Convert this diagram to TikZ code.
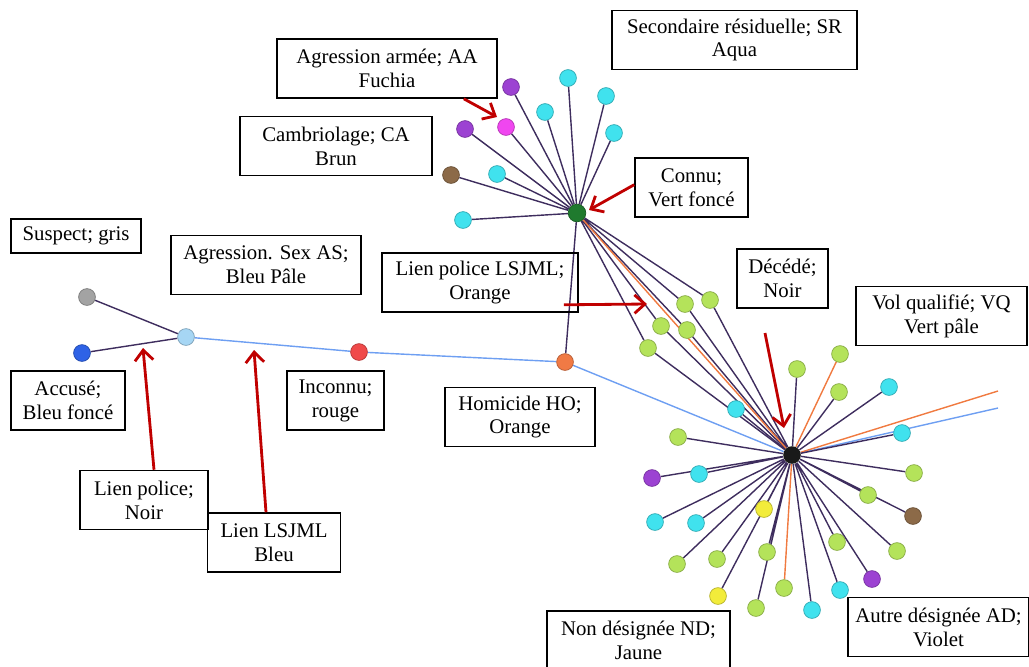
\documentclass[tikz,border=0pt]{standalone}
\usepackage{fontspec}
\setmainfont{Liberation Serif}
\usepackage{xcolor}
\usepackage{tikz}
\usetikzlibrary{arrows.meta,positioning,backgrounds}
\definecolor{aquanode}{HTML}{40E2EE}
\definecolor{palegreen}{HTML}{B4E35A}
\definecolor{violetnode}{HTML}{9C42D2}
\definecolor{fuchsianode}{HTML}{F046F0}
\definecolor{brunnode}{HTML}{8C6A48}
\definecolor{grisnode}{HTML}{A3A3A3}
\definecolor{bleufonce}{HTML}{2E62E6}
\definecolor{bleupale}{HTML}{A6D6F4}
\definecolor{rougenode}{HTML}{F04A4A}
\definecolor{orangenode}{HTML}{F07A45}
\definecolor{vertfonce}{HTML}{1F7A2E}
\definecolor{jaunenode}{HTML}{F2EC3A}
\definecolor{lienpolice}{HTML}{3E2D5E}
\definecolor{lienbleu}{HTML}{6E9FF2}
\definecolor{lienorange}{HTML}{F07A40}
\definecolor{arrowred}{HTML}{C00000}
\tikzset{
  vertex/.style={circle, fill=#1, draw=#1!75!black, line width=0.5pt, minimum size=4.2mm, inner sep=0pt},
  legend/.style={draw=black, line width=1.1pt, align=center, font=\fontsize{14.8}{17}\selectfont, inner sep=2pt, minimum height=1.475cm},
  polline/.style={draw=lienpolice, line width=1pt},
  bleuline/.style={draw=lienbleu, line width=1pt},
  orline/.style={draw=lienorange, line width=1pt},
  pointer/.style={-{Straight Barb[length=2.6mm,width=4.6mm]}, draw=arrowred, line width=2pt}
}

\begin{document}
\begin{tikzpicture}[x=0.025cm, y=-0.025cm]
  \useasboundingbox (0,0) rectangle (1029,666);

  % legend boxes
  \node[legend, minimum width=5.5cm] (aa) at (387,68.5) {Agression armée; AA\\Fuchia};
  \node[legend, minimum width=4.8cm] (ca) at (336,146) {Cambriolage; CA\\Brun};
  \node[legend, minimum width=3.25cm, minimum height=0.85cm] (suspect) at (76,236) {Suspect; gris};
  \node[legend, minimum width=4.75cm] (as) at (266,265) {Agression. Sex AS;\\Bleu Pâle};
  \node[legend, minimum width=4.9cm] (lsjmlpol) at (480,282.5) {Lien police LSJML;\\Orange};
  \node[legend, minimum width=6.125cm] (sr) at (734.5,40) {Secondaire résiduelle; SR\\Aqua};
  \node[legend, minimum width=2.825cm] (connu) at (691.5,187.5) {Connu;\\Vert foncé};
  \node[legend, minimum width=2.275cm] (decede) at (782.5,278.5) {Décédé;\\Noir};
  \node[legend, minimum width=4.275cm] (vq) at (941.5,316) {Vol qualifié; VQ\\Vert pâle};
  \node[legend, minimum width=2.85cm] (accuse) at (68,400.5) {Accusé;\\Bleu foncé};
  \node[legend, minimum width=2.425cm] (inconnu) at (335.5,400.5) {Inconnu;\\rouge};
  \node[legend, minimum width=3.75cm] (homicide) at (520,417) {Homicide HO;\\Orange};
  \node[legend, minimum width=3.2cm] (lienpol) at (144,500) {Lien police;\\Noir};
  \node[legend, minimum width=3.325cm] (lienlsjml) at (274,542.5) {Lien LSJML\\Bleu};
  \node[legend, minimum width=4.575cm] (nd) at (638.5,640.5) {Non désignée ND;\\Jaune};
  \node[legend, minimum width=4.525cm] (ad) at (938.5,627) {Autre désignée AD;\\Violet};

  % left chain
  \node[vertex=grisnode] (sg) at (87,297) {};
  \node[vertex=bleufonce] (ab) at (82,353) {};
  \node[vertex=bleupale] (bp) at (186,337) {};
  \node[vertex=rougenode] (ri) at (359,352) {};
  \node[vertex=orangenode] (ho) at (565,362) {};

  % upper cluster
  \node[vertex=vertfonce, minimum size=4.4mm] (cf) at (577,213) {};
  \node[vertex=violetnode] (u1) at (511,87) {};
  \node[vertex=aquanode] (u2) at (568,78) {};
  \node[vertex=aquanode] (u3) at (606,96) {};
  \node[vertex=aquanode] (u4) at (545,112) {};
  \node[vertex=violetnode] (u5) at (465,129) {};
  \node[vertex=fuchsianode] (u6) at (506,127) {};
  \node[vertex=aquanode] (u7) at (614,133) {};
  \node[vertex=brunnode] (u8) at (451,175) {};
  \node[vertex=aquanode] (u9) at (497,174) {};
  \node[vertex=aquanode] (u10) at (463,220) {};

  % between the hubs
  \node[vertex=palegreen] (m1) at (710,300) {};
  \node[vertex=palegreen] (m2) at (685,304) {};
  \node[vertex=palegreen] (m3) at (661,326) {};
  \node[vertex=palegreen] (m4) at (687,330) {};
  \node[vertex=palegreen] (m5) at (648,348) {};

  % lower cluster
  \node[circle, fill=black!90, minimum size=4.4mm, inner sep=0pt] (dc) at (792,455) {};
  \node[vertex=palegreen] (l1) at (840,354) {};
  \node[vertex=palegreen] (l2) at (797,369) {};
  \node[vertex=palegreen] (l3) at (839,392) {};
  \node[vertex=aquanode] (l4) at (889,387) {};
  \node[vertex=aquanode] (l5) at (736,409) {};
  \node[vertex=palegreen] (l6) at (678,437) {};
  \node[vertex=aquanode] (l7) at (902,433) {};
  \node[vertex=aquanode] (l8) at (699,474) {};
  \node[vertex=violetnode] (l9) at (652,478) {};
  \node[vertex=palegreen] (l10) at (914,473) {};
  \node[vertex=palegreen] (l11) at (868,495) {};
  \node[vertex=brunnode] (l12) at (913,516) {};
  \node[vertex=aquanode] (l13) at (655,522) {};
  \node[vertex=aquanode] (l14) at (696,523) {};
  \node[vertex=jaunenode] (l15) at (764,509) {};
  \node[vertex=palegreen] (l16) at (837,542) {};
  \node[vertex=palegreen] (l17) at (897,551) {};
  \node[vertex=palegreen] (l18) at (677,564) {};
  \node[vertex=palegreen] (l19) at (717,559) {};
  \node[vertex=palegreen] (l20) at (767,552) {};
  \node[vertex=violetnode] (l21) at (872,579) {};
  \node[vertex=jaunenode] (l22) at (718,596) {};
  \node[vertex=palegreen] (l23) at (784,588) {};
  \node[vertex=aquanode] (l24) at (840,590) {};
  \node[vertex=palegreen] (l25) at (756,608) {};
  \node[vertex=aquanode] (l26) at (812,610) {};
  \coordinate (eor) at (998,391);
  \coordinate (ebl) at (998,408);

  % links
  \begin{scope}[on background layer]
    \draw[polline] (sg) -- (bp) (ab) -- (bp) (ho) -- (cf);
    \draw[bleuline] (bp) -- (ri) -- (ho) -- (dc) -- (ebl);
    \draw[polline] (cf) -- (u1) (cf) -- (u2) (cf) -- (u3) (cf) -- (u4) (cf) -- (u5)
      (cf) -- (u6) (cf) -- (u7) (cf) -- (u8) (cf) -- (u9) (cf) -- (u10);
    \draw[polline] (cf) -- (m1) -- (dc) (cf) -- (m2) -- (dc) (cf) -- (m3) -- (dc)
      (cf) -- (m4) -- (dc) (cf) -- (m5) -- (dc);
    \draw[orline] (cf) -- (dc) -- (eor) (dc) -- (l1) (dc) -- (l23);
    \draw[polline] (dc) -- (l2) (dc) -- (l3) (dc) -- (l4) (dc) -- (l5) (dc) -- (l6)
      (dc) -- (l7) (dc) -- (l8) (dc) -- (l9) (dc) -- (l10) (dc) -- (l11) (dc) -- (l12)
      (dc) -- (l13) (dc) -- (l14) (dc) -- (l15) (dc) -- (l16) (dc) -- (l17) (dc) -- (l18)
      (dc) -- (l19) (dc) -- (l20) (dc) -- (l21) (dc) -- (l22) (dc) -- (l24) (dc) -- (l25)
      (dc) -- (l26);
  \end{scope}

  % pointers
  \coordinate (taa) at (497,117);
  \coordinate (tconnu) at (589,210);
  \coordinate (tlsjml) at (647,304);
  \coordinate (sdecede) at (765,333);
  \coordinate (tdecede) at (784,428);
  \coordinate (tlienpol) at (143,348);
  \coordinate (tlienlsjml) at (254,350);
  \draw[pointer] ([xshift=-0.85cm]aa.south east) -- (taa);
  \draw[pointer] ([yshift=0.07cm]connu.west) -- (tconnu);
  \draw[pointer] ([xshift=-0.375cm, yshift=0.2cm]lsjmlpol.south east) -- (tlsjml);
  \draw[pointer] (sdecede) -- (tdecede);
  \draw[pointer] ([xshift=0.25cm]lienpol.north) -- (tlienpol);
  \draw[pointer] ([xshift=-0.2cm]lienlsjml.north) -- (tlienlsjml);
\end{tikzpicture}
\end{document}
